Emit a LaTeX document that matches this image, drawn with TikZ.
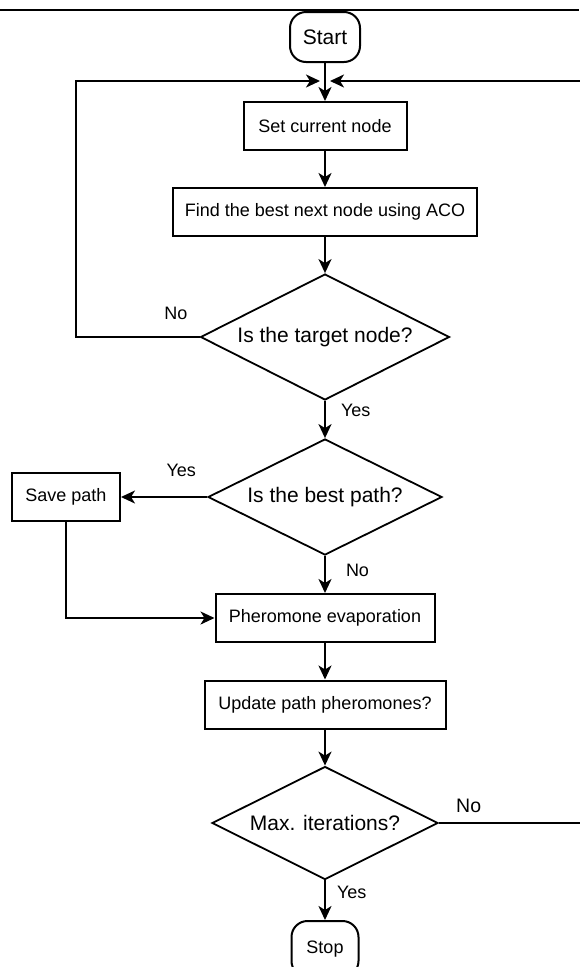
\documentclass[tikz,border=0pt]{standalone}
\usepackage{fontspec}
\setmainfont{Liberation Sans}
\usetikzlibrary{shapes.geometric, arrows.meta, positioning}
\tikzstyle{process} = [
    rectangle,
    draw=black,
    line width=2pt,
    minimum height=48pt,
    inner sep=0pt,
    font=\fontsize{18}{20}\selectfont,
    text centered
]
\tikzstyle{decision} = [
    diamond,
    shape aspect=2,
    draw=black,
    line width=1.8pt,
    inner sep=0pt,
    font=\fontsize{21}{24}\selectfont,
    text centered
]
\tikzstyle{terminal} = [
    rectangle,
    rounded corners=16pt,
    draw=black,
    line width=2pt,
    minimum height=50pt,
    text centered
]
\tikzstyle{flow} = [draw=black, line width=2pt, -{Stealth[length=14pt,width=13pt,inset=4pt]}]
\tikzstyle{answer} = [inner sep=0pt, font=\fontsize{18}{20}\selectfont]

\begin{document}
\begin{tikzpicture}[x=1pt, y=-1pt]
            \useasboundingbox (0,0) rectangle (579,967);
            \draw[line width=2pt] (0,10) -- (579,10);

            \node[terminal, minimum width=70pt, font=\fontsize{21}{24}\selectfont] (start) at (325,37) {Start};
            \node[process, minimum width=163pt] (setNode) [below of=start, node distance=89pt] {Set current node};
            \node[process, minimum width=304pt] (findNext) [below of=setNode, node distance=86pt] {Find the best next node using ACO};
            \node[decision, minimum width=249pt, minimum height=126pt] (isTarget) [below of=findNext, node distance=125pt] {Is the target node?};
            \node[decision, minimum width=234pt, minimum height=116pt] (bestPath) [below of=isTarget, node distance=160pt] {Is the best path?};
            \node[process, minimum width=108pt] (save) [left of=bestPath, node distance=259pt] {Save path};
            \node[process, minimum width=219pt] (evaporate) [below of=bestPath, node distance=121pt] {Pheromone evaporation};
            \node[process, minimum width=241pt] (update) [below of=evaporate, node distance=86.5pt] {Update path pheromones?};
            \node[decision, minimum width=226pt, minimum height=113pt] (maxIter) [below of=update, node distance=118.5pt] {Max. iterations?};
            \node[terminal, minimum width=67pt, minimum height=56pt, font=\fontsize{18}{20}\selectfont] (stop) [below of=maxIter, node distance=126pt] {Stop};

            \coordinate (merge) at (325,81);
            \coordinate (loopL) at (76,81);
            \coordinate (loopR) at (600,81);

            \draw[flow] (start) -- (setNode);
            \draw[flow] (setNode) -- (findNext);
            \draw[flow] (findNext) -- (isTarget);
            \draw[flow, shorten >=5pt] (isTarget.west) -| node[answer, above=16.5pt, pos=0.096] {No} (loopL) -- (merge);
            \draw[flow] (isTarget) -- node[answer, right=15pt, pos=0.26] {Yes} (bestPath);
            \draw[flow] (bestPath.west) -- node[answer, above=19pt, pos=0.3] {Yes} (save.east);
            \draw[flow] (bestPath) -- node[answer, right=20pt, pos=0.38] {No} (evaporate);
            \draw[flow] (save.south) |- (evaporate.west);
            \draw[flow] (evaporate) -- (update);
            \draw[flow] (update) -- (maxIter);
            \draw[flow] (maxIter) -- node[answer, right=11pt, pos=0.29] {Yes} (stop);
            \draw[flow, shorten >=5pt] (maxIter.east) -- node[answer, above=9pt, pos=0.185, font=\fontsize{19.5}{22}\selectfont] {No} (loopR |- maxIter.east) |- (merge);
        \end{tikzpicture}
\end{document}
